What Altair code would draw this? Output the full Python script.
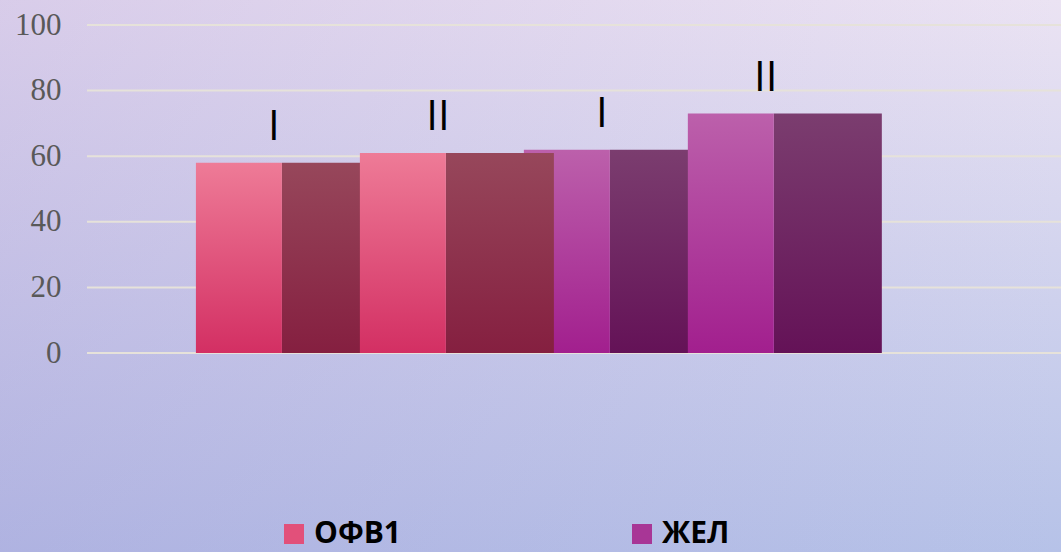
import altair as alt
import pandas as pd

# ---- data ----
series = ["ОФВ1", "ОФВ1", "ЖЕЛ", "ЖЕЛ"]
periods = ["I", "II", "I", "II"]
values = [58, 61, 62, 73]
y_ticks = [0, 20, 40, 60, 80, 100]
legend_order = ["ОФВ1", "ЖЕЛ"]

cats = [f"{s} {p}" for s, p in zip(series, periods)]
df = pd.DataFrame({"cat": cats, "series": series, "period": periods, "value": values})
ticks_df = pd.DataFrame({"tick": y_ticks})
one_df = pd.DataFrame({"k": [0]})

# ---- layout / style ----
PW, PH = 974, 328
PAD = {"left": 87, "top": 25, "right": 0, "bottom": 199}
FRONT_W, SIDE_W = 86, 108


def vgrad(top, bottom):
    return alt.LinearGradient(
        gradient="linear", x1=0, y1=0, x2=0, y2=1,
        stops=[alt.GradientStop(offset=0, color=top), alt.GradientStop(offset=1, color=bottom)],
    )


faces = {
    "ОФВ1": {"front": vgrad("#ee7b97", "#d32f63"), "side": vgrad("#97475b", "#851f40")},
    "ЖЕЛ": {"front": vgrad("#bc60ab", "#a21f8e"), "side": vgrad("#7b3d6f", "#641257")},
}

xscale = alt.Scale(domain=cats, paddingInner=0, paddingOuter=0.97, align=0.355)
yscale = alt.Scale(domain=[0, 100])
yaxis = alt.Axis(
    values=y_ticks, grid=False, domain=False, ticks=False, tickSize=0,
    labelFont="Liberation Serif", labelFontSize=31, labelColor="#595959",
    labelPadding=26, title=None, zindex=1,
)

full = dict(
    x=alt.value(-PAD["left"]), x2=alt.value(PW + PAD["right"]),
    y=alt.value(-PAD["top"]), y2=alt.value(PH + PAD["bottom"]),
)

bg = alt.Chart(one_df).mark_rect(fill=vgrad("#ebe3f3", "#b6c2e8"), strokeWidth=0).encode(**full)
bg_tint = alt.Chart(one_df).mark_rect(
    fill=alt.LinearGradient(
        gradient="linear", x1=0, y1=0, x2=1, y2=0,
        stops=[
            alt.GradientStop(offset=0, color="rgba(150,124,200,0.22)"),
            alt.GradientStop(offset=1, color="rgba(150,124,200,0)"),
        ],
    ),
    strokeWidth=0,
).encode(**full)

grid = alt.Chart(ticks_df).mark_rule(color="#e6e2da", strokeWidth=2).encode(
    y=alt.Y("tick:Q", scale=yscale, axis=yaxis),
    x=alt.value(0), x2=alt.value(PW),
)

layers = [bg, bg_tint, grid]
draw_order = [0, 2, 1, 3]  # back row first, front row last
for i in draw_order:
    c = cats[i]
    s = series[i]
    base = alt.Chart(df).transform_filter(alt.datum.cat == c)
    side = base.mark_bar(fill=faces[s]["side"], width=SIDE_W, xOffset=SIDE_W / 2).encode(
        x=alt.X("cat:N", scale=xscale, axis=None),
        y=alt.Y("value:Q", scale=yscale, axis=yaxis),
    )
    front = base.mark_bar(fill=faces[s]["front"], width=FRONT_W, xOffset=-FRONT_W / 2).encode(
        x=alt.X("cat:N", scale=xscale, axis=None),
        y=alt.Y("value:Q", scale=yscale, axis=yaxis),
    )
    layers += [side, front]

legend_layer = alt.Chart(df).transform_calculate(zero="0").mark_bar(width=1).encode(
    x=alt.X("cat:N", scale=xscale, axis=None),
    y=alt.Y("zero:Q", scale=yscale, axis=yaxis),
    color=alt.Color(
        "series:N",
        scale=alt.Scale(domain=legend_order, range=["#e2507a", "#a83696"]),
        legend=alt.Legend(
            title=None, orient="none", legendX=192, legendY=494,
            direction="horizontal", symbolType="square", symbolSize=400,
            symbolStrokeWidth=0, labelFont="Open Sans", labelFontWeight="bold",
            labelFontSize=30, labelColor="#000000", labelOffset=5,
            columnPadding=226, padding=0,
        ),
    ),
)

labels = alt.Chart(df).mark_text(
    font="Open Sans", fontSize=42, color="#000000", baseline="bottom",
    dy=-14, xOffset=-8,
).encode(
    x=alt.X("cat:N", scale=xscale, axis=None),
    y=alt.Y("value:Q", scale=yscale, axis=yaxis),
    text="period:N",
)

layers += [legend_layer, labels]

chart = alt.layer(*layers).properties(
    width=PW, height=PH,
    padding=PAD,
    autosize=alt.AutoSizeParams(type="none"),
).configure_view(strokeWidth=0)

chart.save("out.html", embed_options={"renderer": "svg", "actions": False})
